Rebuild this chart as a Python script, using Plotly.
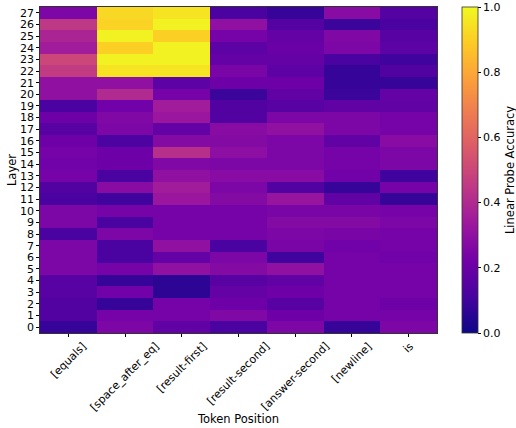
import plotly.graph_objects as go

tokens = ["[equals]", "[space_after_eq]", "[result-first]", "[result-second]",
          "[answer-second]", "[newline]", "is"]
layers = list(range(28))
cbar_ticks = [0.0, 0.2, 0.4, 0.6, 0.8, 1.0]

# accuracy[layer][token], layer 0 first
acc = [
    [0.08, 0.25, 0.18, 0.12, 0.25, 0.08, 0.25],  # 0
    [0.14, 0.23, 0.23, 0.26, 0.21, 0.23, 0.23],  # 1
    [0.14, 0.08, 0.23, 0.21, 0.16, 0.23, 0.21],  # 2
    [0.16, 0.22, 0.06, 0.19, 0.21, 0.23, 0.23],  # 3
    [0.16, 0.08, 0.06, 0.16, 0.18, 0.23, 0.23],  # 4
    [0.25, 0.23, 0.30, 0.27, 0.30, 0.23, 0.23],  # 5
    [0.25, 0.12, 0.19, 0.25, 0.10, 0.23, 0.22],  # 6
    [0.25, 0.12, 0.30, 0.12, 0.24, 0.22, 0.23],  # 7
    [0.12, 0.25, 0.23, 0.23, 0.25, 0.24, 0.23],  # 8
    [0.25, 0.12, 0.23, 0.23, 0.27, 0.27, 0.25],  # 9
    [0.25, 0.23, 0.23, 0.23, 0.24, 0.24, 0.23],  # 10
    [0.12, 0.10, 0.33, 0.27, 0.32, 0.18, 0.08],  # 11
    [0.14, 0.28, 0.35, 0.25, 0.14, 0.08, 0.23],  # 12
    [0.23, 0.12, 0.30, 0.28, 0.28, 0.22, 0.10],  # 13
    [0.22, 0.21, 0.26, 0.25, 0.25, 0.23, 0.25],  # 14
    [0.23, 0.21, 0.42, 0.29, 0.25, 0.23, 0.25],  # 15
    [0.21, 0.13, 0.27, 0.27, 0.25, 0.18, 0.28],  # 16
    [0.16, 0.25, 0.19, 0.28, 0.30, 0.25, 0.23],  # 17
    [0.21, 0.26, 0.33, 0.14, 0.25, 0.25, 0.23],  # 18
    [0.12, 0.22, 0.35, 0.14, 0.16, 0.18, 0.18],  # 19
    [0.30, 0.40, 0.23, 0.09, 0.18, 0.09, 0.19],  # 20
    [0.30, 0.30, 0.17, 0.21, 0.21, 0.08, 0.08],  # 21
    [0.46, 0.95, 0.95, 0.24, 0.17, 0.08, 0.14],  # 22
    [0.50, 0.98, 0.98, 0.19, 0.19, 0.12, 0.10],  # 23
    [0.35, 0.90, 0.98, 0.17, 0.20, 0.25, 0.17],  # 24
    [0.38, 0.98, 0.90, 0.23, 0.19, 0.26, 0.16],  # 25
    [0.45, 0.91, 0.98, 0.30, 0.15, 0.09, 0.12],  # 26
    [0.25, 0.92, 0.95, 0.12, 0.08, 0.28, 0.15],  # 27
]

font = "DejaVu Sans"
fs = 11
fs_title = 11.5

fig = go.Figure(go.Heatmap(
    z=acc,
    x=list(range(len(tokens))),
    y=layers,
    colorscale="Plasma",
    zmin=0, zmax=1,
    colorbar=dict(
        thickness=16, thicknessmode="pixels",
        len=1, lenmode="fraction", y=0.5, yanchor="middle",
        x=1.063, xanchor="left", xpad=0, ypad=0, xref="paper",
        tickvals=cbar_ticks,
        ticktext=[f"{v:.1f}" for v in cbar_ticks],
        ticks="outside", ticklen=3, tickcolor="black",
        tickfont=dict(family=font, size=fs, color="black"),
        outlinewidth=0.8, outlinecolor="#333",
    ),
))

# colour bar label
fig.add_annotation(
    x=1.184, y=0.5, xref="paper", yref="paper", text="Linear Probe Accuracy",
    showarrow=False, textangle=-90, xanchor="center", yanchor="middle",
    font=dict(family=font, size=fs_title, color="black"),
)

# rotated x tick labels centred on their ticks (matplotlib style)
for i, t in enumerate(tokens):
    fig.add_annotation(
        x=i, y=0, xref="x", yref="paper", text=t, showarrow=False,
        textangle=-45, xanchor="center", yanchor="top", yshift=-4,
        font=dict(family=font, size=fs, color="black"),
    )

fig.update_layout(
    width=516, height=428,
    margin=dict(l=40, r=79, t=7, b=95),
    paper_bgcolor="white", plot_bgcolor="white",
    font=dict(family=font, size=fs, color="black"),
    xaxis=dict(
        tickmode="array", tickvals=list(range(len(tokens))), ticktext=tokens,
        showticklabels=False,
        ticks="outside", ticklen=3, tickcolor="black",
        showline=True, linecolor="#333", linewidth=0.8, mirror=True,
        showgrid=False, zeroline=False, automargin=False,
        title=dict(text="Token Position", font=dict(family=font, size=fs_title),
                   standoff=79),
    ),
    yaxis=dict(
        tickmode="array", tickvals=layers, ticktext=[str(l) for l in layers],
        ticks="outside", ticklen=3, tickcolor="black",
        showline=True, linecolor="#333", linewidth=0.8, mirror=True,
        showgrid=False, zeroline=False, automargin=False,
        title=dict(text="Layer", font=dict(family=font, size=fs_title), standoff=0),
        tickfont=dict(family=font, size=fs),
    ),
)

fig.write_html("out.html", post_script="document.body.style.margin='0';",
               config={"displayModeBar": False})
